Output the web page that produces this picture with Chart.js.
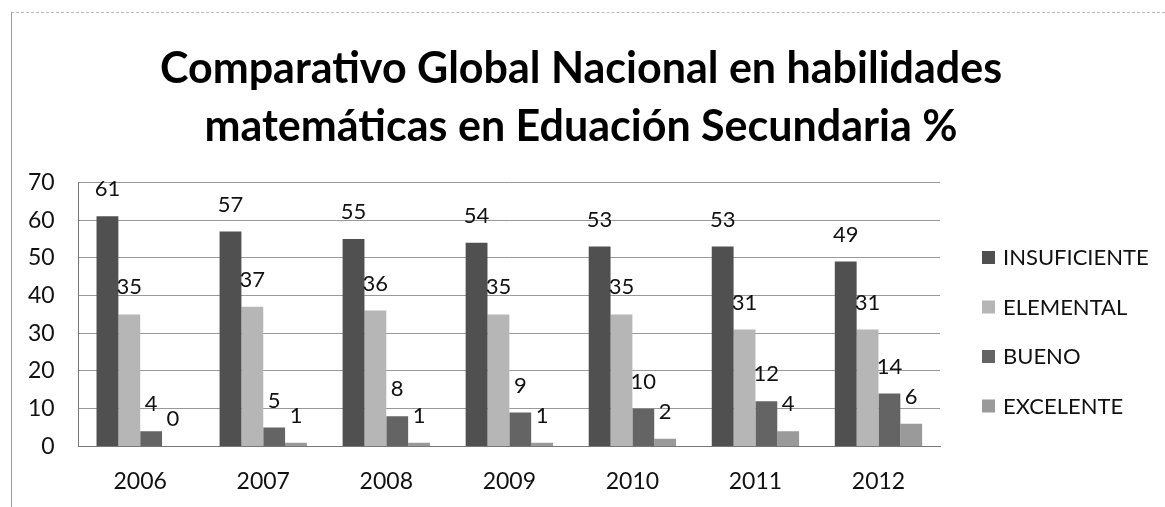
<!DOCTYPE html>
<html>
<head>
<meta charset="utf-8">
<script src="https://cdn.jsdelivr.net/npm/chart.js@4.4.1/dist/chart.umd.min.js"></script>
<style>
  html, body { margin: 0; padding: 0; background: #fff; }
  #marco { position: relative; width: 1165px; height: 507px; }
  #marco:before { content: ''; position: absolute; left: 11px; top: 12px; right: 0; border-top: 1px dashed #bbb; }
  #marco:after { content: ''; position: absolute; left: 11px; top: 12px; bottom: 0; border-left: 1px solid #999; }
  canvas { position: absolute; left: 0; top: 0; }
</style>
</head>
<body>
<div id="marco"><canvas id="grafico" width="1165" height="507"></canvas></div>
<script>
// Años evaluados
const anios = ['2006', '2007', '2008', '2009', '2010', '2011', '2012'];

// Porcentajes por nivel de logro
const insuficiente = [61, 57, 55, 54, 53, 53, 49];
const elemental = [35, 37, 36, 35, 35, 31, 31];
const bueno = [4, 5, 8, 9, 10, 12, 14];
const excelente = [0, 1, 1, 1, 2, 4, 6];

const fuente = 'Lato, "Open Sans", sans-serif';

// Etiquetas de valor encima de cada barra
const etiquetas = {
  id: 'etiquetas',
  afterDatasetsDraw(chart) {
    const ctx = chart.ctx;
    ctx.save();
    ctx.font = '22px ' + fuente;
    ctx.fillStyle = '#111';
    ctx.textAlign = 'center';
    ctx.textBaseline = 'middle';
    chart.data.datasets.forEach((ds, i) => {
      chart.getDatasetMeta(i).data.forEach((bar, j) => {
        ctx.fillText(ds.data[j], bar.x, bar.y - 27);
      });
    });
    ctx.restore();
  }
};

// Leyenda a la derecha, dibujada a mano para poder separarla del área del gráfico
const leyenda = {
  id: 'leyenda',
  afterDraw(chart) {
    const ctx = chart.ctx;
    const x = chart.chartArea.right + 42;
    const y0 = 258;
    const paso = 49.5;
    ctx.save();
    ctx.font = '22px ' + fuente;
    ctx.textAlign = 'left';
    ctx.textBaseline = 'middle';
    chart.data.datasets.forEach((ds, i) => {
      const y = y0 + i * paso;
      ctx.fillStyle = ds.backgroundColor;
      ctx.fillRect(x, y - 7, 13, 13);
      ctx.fillStyle = '#111';
      ctx.fillText(ds.label, x + 21, y);
    });
    ctx.restore();
  }
};

const grafico = new Chart(document.getElementById('grafico').getContext('2d'), {
  type: 'bar',
  data: {
    labels: anios,
    datasets: [
      { label: 'INSUFICIENTE', data: insuficiente, backgroundColor: '#505050' },
      { label: 'ELEMENTAL', data: elemental, backgroundColor: '#b6b6b6' },
      { label: 'BUENO', data: bueno, backgroundColor: '#646464' },
      { label: 'EXCELENTE', data: excelente, backgroundColor: '#9a9a9a' }
    ]
  },
  options: {
    responsive: false,
    animation: false,
    layout: { padding: { left: 4, right: 7, top: 41, bottom: -1 } },
    datasets: {
      bar: { categoryPercentage: 0.71, barPercentage: 1.0 }
    },
    plugins: {
      title: {
        display: true,
        text: ['Comparativo Global Nacional en habilidades', 'matemáticas en Eduación Secundaria %'],
        color: '#000',
        font: { family: fuente, size: 43, weight: 'bold', lineHeight: 1.33 },
        padding: { top: 0, bottom: 27 }
      },
      legend: { display: false },
      tooltip: { enabled: false }
    },
    scales: {
      x: {
        grid: { display: false },
        border: { color: '#777' },
        ticks: { color: '#111', font: { family: fuente, size: 23 }, padding: 13 }
      },
      y: {
        min: 0,
        max: 70,
        grid: { color: '#999', drawTicks: false },
        border: { color: '#777' },
        ticks: { stepSize: 10, color: '#111', font: { family: fuente, size: 23 }, padding: 24 }
      },
      // eje derecho sin marcas: deja el hueco donde va la leyenda
      hueco: {
        position: 'right',
        display: true,
        grid: { display: false },
        border: { display: false },
        ticks: { display: false },
        afterFit(scale) { scale.width = 218; }
      }
    }
  },
  plugins: [etiquetas, leyenda]
});
</script>
</body>
</html>
